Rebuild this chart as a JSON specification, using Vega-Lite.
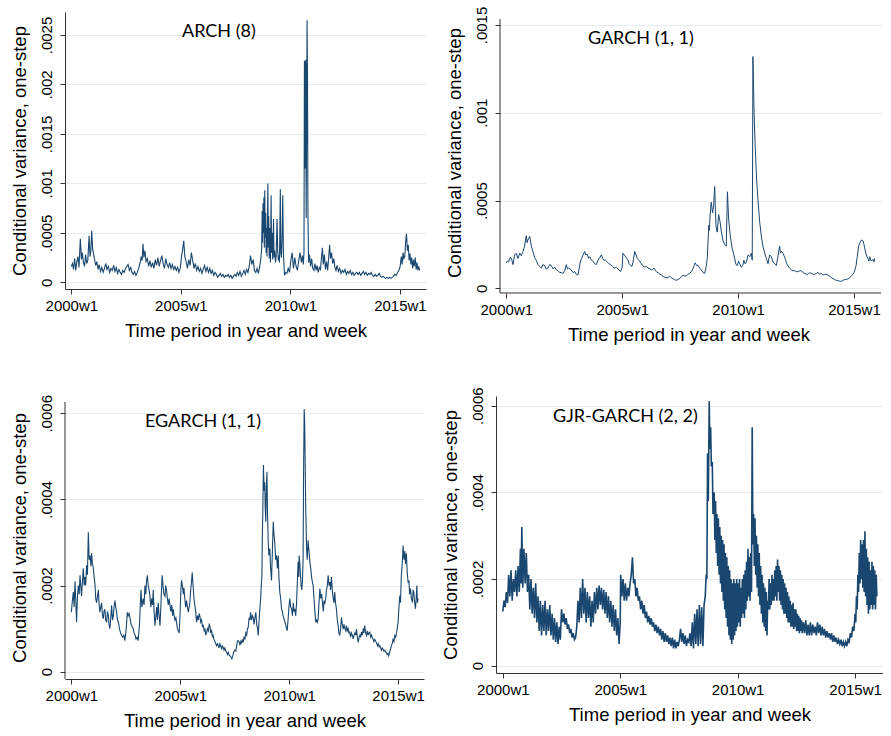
{
"$schema":"https://vega.github.io/schema/vega-lite/v6.json",
"background":"white",
"padding":{"left":9,"top":6,"right":0,"bottom":0},
"bounds":"flush",
"columns":2,
"spacing":{"row":103,"column":70},
"datasets":{
"arch":[
{"t":2000.00,"v":0.00016},{"t":2000.05,"v":0.00019},{"t":2000.10,"v":0.00013},{"t":2000.15,"v":0.00024},{"t":2000.20,"v":0.00012},{"t":2000.25,"v":0.00021},{"t":2000.30,"v":0.00026},{"t":2000.35,"v":0.00015},{"t":2000.41,"v":0.00044},{"t":2000.46,"v":0.00023},{"t":2000.50,"v":0.00030},{"t":2000.55,"v":0.00020},{"t":2000.60,"v":0.00016},{"t":2000.65,"v":0.00028},{"t":2000.70,"v":0.00019},{"t":2000.75,"v":0.00022},{"t":2000.81,"v":0.00047},{"t":2000.85,"v":0.00026},{"t":2000.89,"v":0.00032},{"t":2000.93,"v":0.00052},{"t":2000.97,"v":0.00034},
{"t":2001.01,"v":0.00029},{"t":2001.06,"v":0.00023},{"t":2001.11,"v":0.00017},{"t":2001.16,"v":0.00021},{"t":2001.22,"v":0.00013},{"t":2001.27,"v":0.00018},{"t":2001.33,"v":0.00011},{"t":2001.39,"v":0.00015},{"t":2001.45,"v":0.00010},{"t":2001.51,"v":0.00014},{"t":2001.57,"v":0.00019},{"t":2001.63,"v":0.00013},{"t":2001.69,"v":0.00016},{"t":2001.75,"v":0.00010},{"t":2001.81,"v":0.00014},{"t":2001.87,"v":0.00012},{"t":2001.93,"v":0.00017},{"t":2001.99,"v":0.00011},
{"t":2002.05,"v":0.00015},{"t":2002.11,"v":0.00009},{"t":2002.17,"v":0.00013},{"t":2002.23,"v":0.00010},{"t":2002.29,"v":0.00008},{"t":2002.35,"v":0.00012},{"t":2002.41,"v":0.00010},{"t":2002.47,"v":0.00014},{"t":2002.53,"v":0.00016},{"t":2002.59,"v":0.00018},{"t":2002.65,"v":0.00012},{"t":2002.71,"v":0.00015},{"t":2002.77,"v":0.00010},{"t":2002.83,"v":0.00008},{"t":2002.89,"v":0.00011},{"t":2002.95,"v":0.00007},
{"t":2003.01,"v":0.00010},{"t":2003.07,"v":0.00014},{"t":2003.13,"v":0.00019},{"t":2003.19,"v":0.00026},{"t":2003.23,"v":0.00022},{"t":2003.27,"v":0.00039},{"t":2003.31,"v":0.00025},{"t":2003.36,"v":0.00032},{"t":2003.41,"v":0.00021},{"t":2003.47,"v":0.00024},{"t":2003.53,"v":0.00016},{"t":2003.59,"v":0.00022},{"t":2003.65,"v":0.00015},{"t":2003.71,"v":0.00020},{"t":2003.77,"v":0.00014},{"t":2003.83,"v":0.00023},{"t":2003.89,"v":0.00017},{"t":2003.95,"v":0.00025},
{"t":2004.01,"v":0.00016},{"t":2004.07,"v":0.00022},{"t":2004.13,"v":0.00027},{"t":2004.19,"v":0.00019},{"t":2004.25,"v":0.00014},{"t":2004.31,"v":0.00024},{"t":2004.37,"v":0.00018},{"t":2004.43,"v":0.00015},{"t":2004.49,"v":0.00020},{"t":2004.55,"v":0.00014},{"t":2004.61,"v":0.00018},{"t":2004.67,"v":0.00013},{"t":2004.73,"v":0.00016},{"t":2004.79,"v":0.00012},{"t":2004.85,"v":0.00015},{"t":2004.91,"v":0.00010},{"t":2004.97,"v":0.00014},
{"t":2005.03,"v":0.00026},{"t":2005.08,"v":0.00033},{"t":2005.13,"v":0.00042},{"t":2005.18,"v":0.00026},{"t":2005.24,"v":0.00021},{"t":2005.30,"v":0.00014},{"t":2005.36,"v":0.00023},{"t":2005.42,"v":0.00017},{"t":2005.48,"v":0.00030},{"t":2005.54,"v":0.00022},{"t":2005.60,"v":0.00014},{"t":2005.66,"v":0.00019},{"t":2005.72,"v":0.00012},{"t":2005.78,"v":0.00016},{"t":2005.84,"v":0.00011},{"t":2005.90,"v":0.00014},{"t":2005.96,"v":0.00009},
{"t":2006.02,"v":0.00013},{"t":2006.08,"v":0.00017},{"t":2006.14,"v":0.00011},{"t":2006.20,"v":0.00015},{"t":2006.26,"v":0.00010},{"t":2006.32,"v":0.00014},{"t":2006.38,"v":0.00009},{"t":2006.44,"v":0.00012},{"t":2006.50,"v":0.00007},{"t":2006.56,"v":0.00010},{"t":2006.62,"v":0.00008},{"t":2006.68,"v":0.00005},{"t":2006.74,"v":0.00007},{"t":2006.80,"v":0.00009},{"t":2006.86,"v":0.00006},{"t":2006.92,"v":0.00008},{"t":2006.98,"v":0.00005},
{"t":2007.04,"v":0.00007},{"t":2007.10,"v":0.00006},{"t":2007.16,"v":0.00008},{"t":2007.22,"v":0.00005},{"t":2007.28,"v":0.00007},{"t":2007.34,"v":0.00004},{"t":2007.40,"v":0.00006},{"t":2007.46,"v":0.00008},{"t":2007.52,"v":0.00006},{"t":2007.58,"v":0.00010},{"t":2007.64,"v":0.00007},{"t":2007.70,"v":0.00011},{"t":2007.76,"v":0.00006},{"t":2007.82,"v":0.00009},{"t":2007.88,"v":0.00012},{"t":2007.94,"v":0.00008},
{"t":2008.00,"v":0.00013},{"t":2008.06,"v":0.00010},{"t":2008.12,"v":0.00016},{"t":2008.18,"v":0.00027},{"t":2008.24,"v":0.00018},{"t":2008.30,"v":0.00023},{"t":2008.36,"v":0.00012},{"t":2008.42,"v":0.00010},{"t":2008.48,"v":0.00014},{"t":2008.54,"v":0.00009},{"t":2008.60,"v":0.00016},{"t":2008.65,"v":0.00024},{"t":2008.69,"v":0.00035},{"t":2008.71,"v":0.00072},{"t":2008.73,"v":0.00040},{"t":2008.75,"v":0.00080},{"t":2008.77,"v":0.00050},{"t":2008.79,"v":0.00086},{"t":2008.81,"v":0.00035},{"t":2008.83,"v":0.00093},{"t":2008.85,"v":0.00045},{"t":2008.87,"v":0.00070},{"t":2008.89,"v":0.00030},{"t":2008.91,"v":0.00055},{"t":2008.93,"v":0.00026},{"t":2008.97,"v":0.00100},{"t":2008.99,"v":0.00035},
{"t":2009.01,"v":0.00067},{"t":2009.03,"v":0.00024},{"t":2009.06,"v":0.00055},{"t":2009.09,"v":0.00020},{"t":2009.12,"v":0.00088},{"t":2009.14,"v":0.00030},{"t":2009.17,"v":0.00050},{"t":2009.19,"v":0.00023},{"t":2009.23,"v":0.00064},{"t":2009.25,"v":0.00025},{"t":2009.28,"v":0.00032},{"t":2009.32,"v":0.00020},{"t":2009.35,"v":0.00027},{"t":2009.39,"v":0.00064},{"t":2009.42,"v":0.00032},{"t":2009.45,"v":0.00022},{"t":2009.47,"v":0.00027},{"t":2009.50,"v":0.00020},{"t":2009.54,"v":0.00094},{"t":2009.56,"v":0.00030},{"t":2009.59,"v":0.00025},{"t":2009.62,"v":0.00045},{"t":2009.65,"v":0.00088},{"t":2009.68,"v":0.00030},{"t":2009.73,"v":0.00007},{"t":2009.78,"v":0.00010},{"t":2009.84,"v":0.00009},{"t":2009.90,"v":0.00014},{"t":2009.96,"v":0.00010},
{"t":2010.02,"v":0.00022},{"t":2010.08,"v":0.00030},{"t":2010.14,"v":0.00014},{"t":2010.20,"v":0.00025},{"t":2010.26,"v":0.00016},{"t":2010.32,"v":0.00012},{"t":2010.38,"v":0.00022},{"t":2010.44,"v":0.00030},{"t":2010.50,"v":0.00020},{"t":2010.55,"v":0.00027},{"t":2010.59,"v":0.00018},{"t":2010.62,"v":0.00030},{"t":2010.64,"v":0.00224},{"t":2010.66,"v":0.00220},{"t":2010.68,"v":0.00115},{"t":2010.70,"v":0.00225},{"t":2010.72,"v":0.00065},{"t":2010.74,"v":0.00150},{"t":2010.76,"v":0.00265},{"t":2010.78,"v":0.00210},{"t":2010.80,"v":0.00070},{"t":2010.83,"v":0.00020},{"t":2010.87,"v":0.00028},{"t":2010.92,"v":0.00016},{"t":2010.97,"v":0.00024},
{"t":2011.02,"v":0.00014},{"t":2011.07,"v":0.00012},{"t":2011.12,"v":0.00019},{"t":2011.17,"v":0.00012},{"t":2011.22,"v":0.00017},{"t":2011.27,"v":0.00010},{"t":2011.32,"v":0.00015},{"t":2011.37,"v":0.00013},{"t":2011.42,"v":0.00025},{"t":2011.46,"v":0.00035},{"t":2011.50,"v":0.00018},{"t":2011.55,"v":0.00028},{"t":2011.60,"v":0.00013},{"t":2011.65,"v":0.00021},{"t":2011.70,"v":0.00012},{"t":2011.75,"v":0.00026},{"t":2011.79,"v":0.00038},{"t":2011.83,"v":0.00024},{"t":2011.88,"v":0.00030},{"t":2011.93,"v":0.00019},{"t":2011.98,"v":0.00024},
{"t":2012.03,"v":0.00015},{"t":2012.08,"v":0.00012},{"t":2012.13,"v":0.00017},{"t":2012.19,"v":0.00011},{"t":2012.25,"v":0.00014},{"t":2012.31,"v":0.00009},{"t":2012.37,"v":0.00012},{"t":2012.43,"v":0.00010},{"t":2012.49,"v":0.00013},{"t":2012.55,"v":0.00008},{"t":2012.61,"v":0.00011},{"t":2012.67,"v":0.00009},{"t":2012.73,"v":0.00012},{"t":2012.79,"v":0.00008},{"t":2012.85,"v":0.00010},{"t":2012.91,"v":0.00007},{"t":2012.97,"v":0.00009},
{"t":2013.03,"v":0.00010},{"t":2013.09,"v":0.00008},{"t":2013.15,"v":0.00010},{"t":2013.21,"v":0.00007},{"t":2013.27,"v":0.00009},{"t":2013.33,"v":0.00011},{"t":2013.39,"v":0.00008},{"t":2013.45,"v":0.00010},{"t":2013.51,"v":0.00007},{"t":2013.57,"v":0.00009},{"t":2013.63,"v":0.00008},{"t":2013.69,"v":0.00010},{"t":2013.75,"v":0.00007},{"t":2013.81,"v":0.00006},{"t":2013.87,"v":0.00008},{"t":2013.93,"v":0.00006},{"t":2013.99,"v":0.00007},
{"t":2014.05,"v":0.00009},{"t":2014.11,"v":0.00006},{"t":2014.17,"v":0.00005},{"t":2014.23,"v":0.00006},{"t":2014.29,"v":0.00005},{"t":2014.35,"v":0.00004},{"t":2014.41,"v":0.00005},{"t":2014.47,"v":0.00004},{"t":2014.53,"v":0.00005},{"t":2014.59,"v":0.00004},{"t":2014.65,"v":0.00005},{"t":2014.71,"v":0.00006},{"t":2014.77,"v":0.00008},{"t":2014.83,"v":0.00007},{"t":2014.89,"v":0.00010},{"t":2014.95,"v":0.00012},
{"t":2015.01,"v":0.00016},{"t":2015.06,"v":0.00026},{"t":2015.10,"v":0.00018},{"t":2015.14,"v":0.00030},{"t":2015.18,"v":0.00024},{"t":2015.22,"v":0.00026},{"t":2015.26,"v":0.00041},{"t":2015.30,"v":0.00049},{"t":2015.34,"v":0.00032},{"t":2015.38,"v":0.00038},{"t":2015.42,"v":0.00022},{"t":2015.46,"v":0.00029},{"t":2015.50,"v":0.00018},{"t":2015.54,"v":0.00025},{"t":2015.58,"v":0.00014},{"t":2015.62,"v":0.00023},{"t":2015.66,"v":0.00016},{"t":2015.70,"v":0.00025},{"t":2015.74,"v":0.00013},{"t":2015.78,"v":0.00020},{"t":2015.82,"v":0.00012},{"t":2015.86,"v":0.00016},{"t":2015.90,"v":0.00012}
],
"garch":[
{"t":2000.00,"v":0.000145},{"t":2000.05,"v":0.000155},{"t":2000.10,"v":0.00015},{"t":2000.16,"v":0.000175},{"t":2000.22,"v":0.00017},{"t":2000.29,"v":0.000135},{"t":2000.36,"v":0.00019},{"t":2000.43,"v":0.0002},{"t":2000.50,"v":0.00017},{"t":2000.58,"v":0.0002},{"t":2000.65,"v":0.000185},{"t":2000.72,"v":0.00021},{"t":2000.79,"v":0.00024},{"t":2000.86,"v":0.0003},{"t":2000.90,"v":0.00026},{"t":2000.93,"v":0.000275},{"t":2001.01,"v":0.000295},{"t":2001.08,"v":0.00024},{"t":2001.15,"v":0.00021},{"t":2001.22,"v":0.000175},{"t":2001.29,"v":0.00016},{"t":2001.37,"v":0.000135},{"t":2001.44,"v":0.000125},{"t":2001.51,"v":0.000115},{"t":2001.58,"v":0.000135},{"t":2001.65,"v":0.00013},{"t":2001.72,"v":0.00011},{"t":2001.80,"v":0.000115},{"t":2001.87,"v":0.000135},{"t":2001.94,"v":0.00013},{"t":2002.02,"v":0.00011},{"t":2002.09,"v":0.00012},{"t":2002.16,"v":0.000105},{"t":2002.23,"v":0.0001},{"t":2002.30,"v":0.00009},{"t":2002.37,"v":0.00009},{"t":2002.45,"v":0.000085},{"t":2002.52,"v":0.0001},{"t":2002.59,"v":0.000135},{"t":2002.64,"v":0.00011},{"t":2002.69,"v":0.000115},{"t":2002.80,"v":0.000105},{"t":2002.88,"v":0.00009},{"t":2002.95,"v":0.000095},{"t":2003.02,"v":0.00008},{"t":2003.09,"v":0.000075},{"t":2003.14,"v":0.00011},{"t":2003.19,"v":0.00015},{"t":2003.25,"v":0.00017},{"t":2003.31,"v":0.00019},{"t":2003.38,"v":0.00021},{"t":2003.43,"v":0.00019},{"t":2003.49,"v":0.000195},{"t":2003.55,"v":0.00017},{"t":2003.60,"v":0.00018},{"t":2003.67,"v":0.00016},{"t":2003.74,"v":0.000155},{"t":2003.81,"v":0.00014},{"t":2003.88,"v":0.000135},{"t":2003.96,"v":0.00016},{"t":2004.03,"v":0.000175},{"t":2004.10,"v":0.00019},{"t":2004.16,"v":0.00017},{"t":2004.21,"v":0.00016},{"t":2004.28,"v":0.00016},{"t":2004.36,"v":0.00015},{"t":2004.43,"v":0.00014},{"t":2004.50,"v":0.000135},{"t":2004.58,"v":0.000125},{"t":2004.67,"v":0.000115},{"t":2004.75,"v":0.00012},{"t":2004.82,"v":0.00011},{"t":2004.93,"v":0.000095},{"t":2005.00,"v":0.00012},{"t":2005.03,"v":0.0002},{"t":2005.08,"v":0.00019},{"t":2005.13,"v":0.000185},{"t":2005.19,"v":0.00017},{"t":2005.25,"v":0.00016},{"t":2005.30,"v":0.00014},{"t":2005.36,"v":0.00013},{"t":2005.42,"v":0.000125},{"t":2005.47,"v":0.00015},{"t":2005.54,"v":0.00021},{"t":2005.60,"v":0.00019},{"t":2005.65,"v":0.00017},{"t":2005.72,"v":0.00016},{"t":2005.80,"v":0.000145},{"t":2005.88,"v":0.00013},{"t":2005.97,"v":0.00012},{"t":2006.04,"v":0.000125},{"t":2006.11,"v":0.000115},{"t":2006.20,"v":0.00011},{"t":2006.28,"v":0.000105},{"t":2006.37,"v":0.000115},{"t":2006.47,"v":0.000095},{"t":2006.58,"v":0.000085},{"t":2006.69,"v":0.000075},{"t":2006.80,"v":0.000065},{"t":2006.90,"v":0.00006},{"t":2006.97,"v":0.00006},{"t":2007.05,"v":0.00007},{"t":2007.12,"v":0.00006},{"t":2007.19,"v":0.000055},{"t":2007.26,"v":0.00005},{"t":2007.33,"v":0.000045},{"t":2007.40,"v":0.00005},{"t":2007.48,"v":0.000055},{"t":2007.55,"v":0.000065},{"t":2007.62,"v":0.000075},{"t":2007.70,"v":0.00007},{"t":2007.77,"v":0.00007},{"t":2007.84,"v":0.00008},{"t":2007.91,"v":0.000085},{"t":2007.98,"v":0.000095},{"t":2008.05,"v":0.00011},{"t":2008.10,"v":0.00013},{"t":2008.15,"v":0.000145},{"t":2008.21,"v":0.00013},{"t":2008.27,"v":0.00013},{"t":2008.34,"v":0.000115},{"t":2008.41,"v":0.000105},{"t":2008.49,"v":0.00009},{"t":2008.56,"v":0.000085},{"t":2008.62,"v":0.00012},{"t":2008.67,"v":0.00017},{"t":2008.70,"v":0.00026},{"t":2008.74,"v":0.00036},{"t":2008.76,"v":0.00033},{"t":2008.79,"v":0.00041},{"t":2008.84,"v":0.00049},{"t":2008.87,"v":0.00046},{"t":2008.90,"v":0.00043},{"t":2008.95,"v":0.00048},{"t":2008.99,"v":0.00058},{"t":2009.02,"v":0.00045},{"t":2009.05,"v":0.00035},{"t":2009.10,"v":0.00032},{"t":2009.16,"v":0.00042},{"t":2009.22,"v":0.00038},{"t":2009.28,"v":0.00032},{"t":2009.35,"v":0.00027},{"t":2009.42,"v":0.00025},{"t":2009.49,"v":0.00024},{"t":2009.54,"v":0.00055},{"t":2009.59,"v":0.0004},{"t":2009.66,"v":0.0003},{"t":2009.74,"v":0.00023},{"t":2009.80,"v":0.0002},{"t":2009.85,"v":0.00017},{"t":2009.91,"v":0.000135},{"t":2009.97,"v":0.00013},{"t":2010.02,"v":0.000155},{"t":2010.07,"v":0.00014},{"t":2010.14,"v":0.00012},{"t":2010.20,"v":0.00013},{"t":2010.25,"v":0.00016},{"t":2010.30,"v":0.00014},{"t":2010.36,"v":0.00015},{"t":2010.43,"v":0.00019},{"t":2010.50,"v":0.00018},{"t":2010.57,"v":0.0002},{"t":2010.61,"v":0.00016},{"t":2010.64,"v":0.00132},{"t":2010.69,"v":0.001},{"t":2010.74,"v":0.0008},{"t":2010.80,"v":0.00062},{"t":2010.86,"v":0.0005},{"t":2010.93,"v":0.00038},{"t":2011.00,"v":0.0003},{"t":2011.07,"v":0.00024},{"t":2011.15,"v":0.0002},{"t":2011.22,"v":0.00017},{"t":2011.29,"v":0.00014},{"t":2011.36,"v":0.00019},{"t":2011.43,"v":0.00018},{"t":2011.51,"v":0.00015},{"t":2011.58,"v":0.00014},{"t":2011.65,"v":0.00013},{"t":2011.72,"v":0.00018},{"t":2011.79,"v":0.00024},{"t":2011.83,"v":0.0002},{"t":2011.87,"v":0.00021},{"t":2011.94,"v":0.0002},{"t":2012.04,"v":0.000165},{"t":2012.10,"v":0.00014},{"t":2012.15,"v":0.00013},{"t":2012.22,"v":0.000115},{"t":2012.30,"v":0.000105},{"t":2012.37,"v":0.0001},{"t":2012.44,"v":0.0001},{"t":2012.51,"v":0.000095},{"t":2012.58,"v":0.000095},{"t":2012.66,"v":0.0001},{"t":2012.73,"v":0.0001},{"t":2012.80,"v":0.00009},{"t":2012.87,"v":0.000085},{"t":2012.95,"v":0.00008},{"t":2013.02,"v":0.00008},{"t":2013.09,"v":0.00009},{"t":2013.16,"v":0.000085},{"t":2013.23,"v":0.00008},{"t":2013.30,"v":0.00008},{"t":2013.38,"v":0.000085},{"t":2013.45,"v":0.00009},{"t":2013.52,"v":0.00008},{"t":2013.59,"v":0.000085},{"t":2013.66,"v":0.000075},{"t":2013.73,"v":0.00008},{"t":2013.80,"v":0.00008},{"t":2013.88,"v":0.000075},{"t":2013.95,"v":0.00007},{"t":2014.02,"v":0.00006},{"t":2014.10,"v":0.000055},{"t":2014.17,"v":0.00005},{"t":2014.24,"v":0.000045},{"t":2014.31,"v":0.000045},{"t":2014.38,"v":0.00004},{"t":2014.46,"v":0.00004},{"t":2014.53,"v":0.000045},{"t":2014.60,"v":0.00005},{"t":2014.67,"v":0.00005},{"t":2014.74,"v":0.000055},{"t":2014.81,"v":0.00006},{"t":2014.89,"v":0.00007},{"t":2014.95,"v":0.00008},{"t":2015.00,"v":0.00009},{"t":2015.05,"v":0.00011},{"t":2015.09,"v":0.00013},{"t":2015.14,"v":0.00018},{"t":2015.20,"v":0.00024},{"t":2015.26,"v":0.00026},{"t":2015.32,"v":0.000275},{"t":2015.39,"v":0.00027},{"t":2015.43,"v":0.00025},{"t":2015.46,"v":0.00023},{"t":2015.53,"v":0.00019},{"t":2015.60,"v":0.00017},{"t":2015.64,"v":0.000155},{"t":2015.68,"v":0.00018},{"t":2015.72,"v":0.00016},{"t":2015.75,"v":0.000155},{"t":2015.82,"v":0.000165},{"t":2015.86,"v":0.00015},{"t":2015.89,"v":0.00017}
],
"egarch":[
{"t":2000.00,"v":0.000138},{"t":2000.04,"v":0.00016},{"t":2000.09,"v":0.000185},{"t":2000.13,"v":0.00015},{"t":2000.17,"v":0.00021},{"t":2000.21,"v":0.00016},{"t":2000.24,"v":0.000115},{"t":2000.28,"v":0.00017},{"t":2000.32,"v":0.0002},{"t":2000.36,"v":0.00018},{"t":2000.40,"v":0.000224},{"t":2000.44,"v":0.000195},{"t":2000.47,"v":0.000175},{"t":2000.51,"v":0.00021},{"t":2000.55,"v":0.00024},{"t":2000.59,"v":0.0002},{"t":2000.63,"v":0.00022},{"t":2000.66,"v":0.0002},{"t":2000.70,"v":0.000247},{"t":2000.74,"v":0.000225},{"t":2000.78,"v":0.000324},{"t":2000.82,"v":0.00026},{"t":2000.86,"v":0.00027},{"t":2000.90,"v":0.000245},{"t":2000.93,"v":0.000275},{"t":2000.97,"v":0.00025},{"t":2001.01,"v":0.00024},{"t":2001.05,"v":0.00022},{"t":2001.09,"v":0.0002},{"t":2001.12,"v":0.00017},{"t":2001.16,"v":0.00016},{"t":2001.20,"v":0.000175},{"t":2001.24,"v":0.00019},{"t":2001.27,"v":0.00016},{"t":2001.31,"v":0.000138},{"t":2001.35,"v":0.00015},{"t":2001.39,"v":0.00016},{"t":2001.43,"v":0.00013},{"t":2001.47,"v":0.000123},{"t":2001.50,"v":0.00014},{"t":2001.54,"v":0.000145},{"t":2001.58,"v":0.00012},{"t":2001.62,"v":0.000115},{"t":2001.66,"v":0.00014},{"t":2001.70,"v":0.00013},{"t":2001.73,"v":0.00011},{"t":2001.77,"v":0.0001},{"t":2001.81,"v":0.000125},{"t":2001.85,"v":0.000154},{"t":2001.89,"v":0.00012},{"t":2001.93,"v":0.00013},{"t":2001.96,"v":0.00015},{"t":2002.00,"v":0.000165},{"t":2002.04,"v":0.00015},{"t":2002.08,"v":0.000138},{"t":2002.12,"v":0.00012},{"t":2002.16,"v":0.000115},{"t":2002.21,"v":0.0001},{"t":2002.26,"v":0.00009},{"t":2002.31,"v":0.000084},{"t":2002.36,"v":0.00008},{"t":2002.41,"v":0.000085},{"t":2002.46,"v":0.000072},{"t":2002.52,"v":0.0001},{"t":2002.57,"v":0.000138},{"t":2002.61,"v":0.00013},{"t":2002.65,"v":0.000135},{"t":2002.69,"v":0.000126},{"t":2002.74,"v":0.00011},{"t":2002.79,"v":0.000105},{"t":2002.84,"v":0.0001},{"t":2002.88,"v":0.00009},{"t":2002.93,"v":0.000085},{"t":2002.97,"v":0.000076},{"t":2003.02,"v":0.00008},{"t":2003.07,"v":0.000072},{"t":2003.13,"v":0.00011},{"t":2003.17,"v":0.00016},{"t":2003.20,"v":0.00019},{"t":2003.24,"v":0.00015},{"t":2003.30,"v":0.00017},{"t":2003.34,"v":0.000155},{"t":2003.38,"v":0.0002},{"t":2003.42,"v":0.00018},{"t":2003.45,"v":0.00021},{"t":2003.49,"v":0.000224},{"t":2003.53,"v":0.0002},{"t":2003.57,"v":0.00019},{"t":2003.61,"v":0.000175},{"t":2003.65,"v":0.00015},{"t":2003.69,"v":0.00017},{"t":2003.73,"v":0.000155},{"t":2003.76,"v":0.00019},{"t":2003.80,"v":0.00014},{"t":2003.84,"v":0.000107},{"t":2003.88,"v":0.00013},{"t":2003.92,"v":0.00015},{"t":2003.95,"v":0.00012},{"t":2003.99,"v":0.00016},{"t":2004.03,"v":0.00013},{"t":2004.07,"v":0.000107},{"t":2004.11,"v":0.00015},{"t":2004.14,"v":0.00019},{"t":2004.17,"v":0.000224},{"t":2004.21,"v":0.0002},{"t":2004.25,"v":0.00018},{"t":2004.30,"v":0.000175},{"t":2004.33,"v":0.0002},{"t":2004.37,"v":0.00019},{"t":2004.41,"v":0.00017},{"t":2004.45,"v":0.000155},{"t":2004.49,"v":0.00017},{"t":2004.53,"v":0.000154},{"t":2004.57,"v":0.00014},{"t":2004.61,"v":0.000155},{"t":2004.65,"v":0.00013},{"t":2004.68,"v":0.000145},{"t":2004.72,"v":0.00013},{"t":2004.76,"v":0.00012},{"t":2004.80,"v":0.000125},{"t":2004.83,"v":0.000115},{"t":2004.87,"v":0.0001},{"t":2004.91,"v":0.000095},{"t":2004.95,"v":0.00009},{"t":2004.99,"v":0.00013},{"t":2005.03,"v":0.00019},{"t":2005.06,"v":0.000212},{"t":2005.10,"v":0.0002},{"t":2005.14,"v":0.00018},{"t":2005.17,"v":0.000195},{"t":2005.21,"v":0.00017},{"t":2005.25,"v":0.00015},{"t":2005.29,"v":0.000165},{"t":2005.33,"v":0.00015},{"t":2005.37,"v":0.000138},{"t":2005.41,"v":0.00015},{"t":2005.44,"v":0.00016},{"t":2005.48,"v":0.00019},{"t":2005.52,"v":0.00021},{"t":2005.55,"v":0.00023},{"t":2005.59,"v":0.0002},{"t":2005.63,"v":0.00017},{"t":2005.67,"v":0.000154},{"t":2005.71,"v":0.00014},{"t":2005.75,"v":0.000115},{"t":2005.79,"v":0.00013},{"t":2005.83,"v":0.00012},{"t":2005.87,"v":0.000135},{"t":2005.90,"v":0.00013},{"t":2005.94,"v":0.000115},{"t":2005.98,"v":0.00012},{"t":2006.02,"v":0.000105},{"t":2006.06,"v":0.000107},{"t":2006.10,"v":0.000095},{"t":2006.14,"v":0.0001},{"t":2006.17,"v":0.000085},{"t":2006.21,"v":0.00009},{"t":2006.25,"v":0.0001},{"t":2006.29,"v":0.000095},{"t":2006.33,"v":0.00011},{"t":2006.36,"v":0.000107},{"t":2006.40,"v":0.00009},{"t":2006.44,"v":0.000095},{"t":2006.48,"v":0.00008},{"t":2006.51,"v":0.000084},{"t":2006.55,"v":0.000075},{"t":2006.59,"v":0.00007},{"t":2006.63,"v":0.000065},{"t":2006.67,"v":0.00006},{"t":2006.71,"v":0.000065},{"t":2006.75,"v":0.00006},{"t":2006.78,"v":0.000055},{"t":2006.82,"v":0.000065},{"t":2006.86,"v":0.00006},{"t":2006.90,"v":0.000052},{"t":2006.93,"v":0.00006},{"t":2006.97,"v":0.000057},{"t":2007.01,"v":0.00005},{"t":2007.05,"v":0.000055},{"t":2007.09,"v":0.000048},{"t":2007.13,"v":0.000045},{"t":2007.17,"v":0.00004},{"t":2007.21,"v":0.000045},{"t":2007.25,"v":0.000038},{"t":2007.28,"v":0.000037},{"t":2007.33,"v":0.000034},{"t":2007.37,"v":0.00003},{"t":2007.41,"v":0.000036},{"t":2007.45,"v":0.000045},{"t":2007.51,"v":0.00005},{"t":2007.55,"v":0.000048},{"t":2007.59,"v":0.00006},{"t":2007.63,"v":0.000072},{"t":2007.66,"v":0.000072},{"t":2007.70,"v":0.00007},{"t":2007.74,"v":0.000062},{"t":2007.78,"v":0.00007},{"t":2007.81,"v":0.000065},{"t":2007.85,"v":0.000075},{"t":2007.89,"v":0.000068},{"t":2007.93,"v":0.00008},{"t":2007.97,"v":0.000076},{"t":2008.01,"v":0.00009},{"t":2008.05,"v":0.000085},{"t":2008.09,"v":0.0001},{"t":2008.12,"v":0.000103},{"t":2008.16,"v":0.000125},{"t":2008.20,"v":0.00012},{"t":2008.23,"v":0.000138},{"t":2008.27,"v":0.00012},{"t":2008.31,"v":0.00013},{"t":2008.35,"v":0.000126},{"t":2008.39,"v":0.00011},{"t":2008.43,"v":0.000125},{"t":2008.47,"v":0.000138},{"t":2008.51,"v":0.00011},{"t":2008.55,"v":0.0001},{"t":2008.58,"v":0.000084},{"t":2008.62,"v":0.00012},{"t":2008.66,"v":0.00015},{"t":2008.69,"v":0.000168},{"t":2008.72,"v":0.0002},{"t":2008.75,"v":0.000224},{"t":2008.77,"v":0.00032},{"t":2008.79,"v":0.00037},{"t":2008.81,"v":0.00045},{"t":2008.82,"v":0.00048},{"t":2008.85,"v":0.00042},{"t":2008.88,"v":0.00044},{"t":2008.90,"v":0.00038},{"t":2008.93,"v":0.000348},{"t":2008.95,"v":0.00042},{"t":2008.98,"v":0.000464},{"t":2009.01,"v":0.00036},{"t":2009.04,"v":0.0003},{"t":2009.07,"v":0.00027},{"t":2009.11,"v":0.000286},{"t":2009.15,"v":0.00024},{"t":2009.19,"v":0.000212},{"t":2009.23,"v":0.00028},{"t":2009.27,"v":0.000348},{"t":2009.30,"v":0.00032},{"t":2009.34,"v":0.0003},{"t":2009.38,"v":0.00026},{"t":2009.42,"v":0.00027},{"t":2009.46,"v":0.00024},{"t":2009.50,"v":0.00027},{"t":2009.53,"v":0.00022},{"t":2009.57,"v":0.000185},{"t":2009.61,"v":0.00017},{"t":2009.65,"v":0.000146},{"t":2009.69,"v":0.00014},{"t":2009.72,"v":0.00013},{"t":2009.78,"v":0.00012},{"t":2009.85,"v":0.000107},{"t":2009.91,"v":0.000095},{"t":2009.95,"v":0.00012},{"t":2009.99,"v":0.00015},{"t":2010.03,"v":0.00017},{"t":2010.07,"v":0.00015},{"t":2010.11,"v":0.000146},{"t":2010.15,"v":0.00013},{"t":2010.19,"v":0.00016},{"t":2010.22,"v":0.00014},{"t":2010.26,"v":0.000146},{"t":2010.30,"v":0.00013},{"t":2010.34,"v":0.00016},{"t":2010.37,"v":0.0002},{"t":2010.41,"v":0.000255},{"t":2010.44,"v":0.00022},{"t":2010.46,"v":0.00027},{"t":2010.49,"v":0.00025},{"t":2010.52,"v":0.000224},{"t":2010.55,"v":0.0002},{"t":2010.58,"v":0.00019},{"t":2010.61,"v":0.00021},{"t":2010.64,"v":0.00026},{"t":2010.66,"v":0.00045},{"t":2010.69,"v":0.00061},{"t":2010.71,"v":0.00058},{"t":2010.73,"v":0.00051},{"t":2010.76,"v":0.00038},{"t":2010.80,"v":0.000286},{"t":2010.83,"v":0.00026},{"t":2010.87,"v":0.000305},{"t":2010.91,"v":0.00028},{"t":2010.95,"v":0.000255},{"t":2010.99,"v":0.00024},{"t":2011.03,"v":0.00022},{"t":2011.06,"v":0.00021},{"t":2011.10,"v":0.0002},{"t":2011.14,"v":0.00017},{"t":2011.18,"v":0.00014},{"t":2011.22,"v":0.000115},{"t":2011.26,"v":0.00012},{"t":2011.30,"v":0.000115},{"t":2011.33,"v":0.000123},{"t":2011.37,"v":0.00016},{"t":2011.41,"v":0.000193},{"t":2011.45,"v":0.00017},{"t":2011.49,"v":0.00018},{"t":2011.53,"v":0.00016},{"t":2011.57,"v":0.00014},{"t":2011.60,"v":0.000165},{"t":2011.64,"v":0.00016},{"t":2011.68,"v":0.00017},{"t":2011.71,"v":0.000188},{"t":2011.75,"v":0.0002},{"t":2011.79,"v":0.000224},{"t":2011.83,"v":0.0002},{"t":2011.87,"v":0.000208},{"t":2011.90,"v":0.00019},{"t":2011.94,"v":0.00022},{"t":2011.98,"v":0.00019},{"t":2012.02,"v":0.00017},{"t":2012.06,"v":0.00016},{"t":2012.09,"v":0.000185},{"t":2012.13,"v":0.00016},{"t":2012.17,"v":0.000145},{"t":2012.21,"v":0.00012},{"t":2012.25,"v":0.000107},{"t":2012.28,"v":0.00009},{"t":2012.32,"v":0.000084},{"t":2012.36,"v":0.0001},{"t":2012.40,"v":0.000126},{"t":2012.44,"v":0.00011},{"t":2012.48,"v":0.000099},{"t":2012.52,"v":0.00011},{"t":2012.56,"v":0.0001},{"t":2012.60,"v":0.000095},{"t":2012.63,"v":0.000107},{"t":2012.67,"v":0.000095},{"t":2012.71,"v":0.0001},{"t":2012.74,"v":0.00009},{"t":2012.78,"v":0.000092},{"t":2012.82,"v":0.00008},{"t":2012.86,"v":0.00009},{"t":2012.90,"v":0.000085},{"t":2012.94,"v":0.000076},{"t":2012.98,"v":0.000085},{"t":2013.02,"v":0.00009},{"t":2013.06,"v":0.000085},{"t":2013.09,"v":0.000099},{"t":2013.13,"v":0.00008},{"t":2013.17,"v":0.000068},{"t":2013.21,"v":0.00008},{"t":2013.25,"v":0.000085},{"t":2013.28,"v":0.00008},{"t":2013.32,"v":0.000092},{"t":2013.36,"v":0.000085},{"t":2013.40,"v":0.0001},{"t":2013.43,"v":0.00009},{"t":2013.47,"v":0.000107},{"t":2013.51,"v":0.00009},{"t":2013.55,"v":0.000084},{"t":2013.59,"v":0.000095},{"t":2013.63,"v":0.000085},{"t":2013.66,"v":0.00009},{"t":2013.70,"v":0.000092},{"t":2013.74,"v":0.00008},{"t":2013.78,"v":0.000085},{"t":2013.81,"v":0.00008},{"t":2013.85,"v":0.000076},{"t":2013.89,"v":0.00007},{"t":2013.93,"v":0.000075},{"t":2013.97,"v":0.00007},{"t":2014.01,"v":0.000068},{"t":2014.05,"v":0.00006},{"t":2014.09,"v":0.000065},{"t":2014.13,"v":0.000058},{"t":2014.16,"v":0.00006},{"t":2014.20,"v":0.000055},{"t":2014.24,"v":0.00005},{"t":2014.28,"v":0.000055},{"t":2014.31,"v":0.000052},{"t":2014.35,"v":0.000048},{"t":2014.39,"v":0.00005},{"t":2014.43,"v":0.000045},{"t":2014.46,"v":0.000045},{"t":2014.50,"v":0.00004},{"t":2014.54,"v":0.000042},{"t":2014.57,"v":0.000037},{"t":2014.61,"v":0.000045},{"t":2014.65,"v":0.000052},{"t":2014.69,"v":0.00006},{"t":2014.73,"v":0.000065},{"t":2014.77,"v":0.000075},{"t":2014.81,"v":0.00007},{"t":2014.85,"v":0.000084},{"t":2014.89,"v":0.00008},{"t":2014.93,"v":0.00009},{"t":2014.96,"v":0.0001},{"t":2015.00,"v":0.000115},{"t":2015.04,"v":0.00015},{"t":2015.08,"v":0.000177},{"t":2015.11,"v":0.00016},{"t":2015.15,"v":0.000224},{"t":2015.19,"v":0.00025},{"t":2015.21,"v":0.00027},{"t":2015.23,"v":0.000293},{"t":2015.27,"v":0.00026},{"t":2015.31,"v":0.00028},{"t":2015.34,"v":0.00025},{"t":2015.38,"v":0.000275},{"t":2015.42,"v":0.00023},{"t":2015.46,"v":0.000208},{"t":2015.50,"v":0.00021},{"t":2015.53,"v":0.00018},{"t":2015.57,"v":0.000193},{"t":2015.61,"v":0.00017},{"t":2015.66,"v":0.000161},{"t":2015.69,"v":0.00019},{"t":2015.72,"v":0.000185},{"t":2015.76,"v":0.00016},{"t":2015.80,"v":0.000146},{"t":2015.83,"v":0.00017},{"t":2015.86,"v":0.0002},{"t":2015.89,"v":0.00016},{"t":2015.92,"v":0.00017}
],
"gjr":[
{"t":2000.00,"v":0.000125},{"t":2000.05,"v":0.00015},{"t":2000.10,"v":0.000135},{"t":2000.15,"v":0.00017},{"t":2000.20,"v":0.000145},{"t":2000.25,"v":0.00021},{"t":2000.30,"v":0.00016},{"t":2000.35,"v":0.00022},{"t":2000.40,"v":0.00015},{"t":2000.45,"v":0.0002},{"t":2000.50,"v":0.00017},{"t":2000.55,"v":0.00022},{"t":2000.60,"v":0.00016},{"t":2000.65,"v":0.00023},{"t":2000.70,"v":0.00017},{"t":2000.75,"v":0.00027},{"t":2000.78,"v":0.00019},{"t":2000.81,"v":0.00032},{"t":2000.85,"v":0.00018},{"t":2000.90,"v":0.00027},{"t":2000.95,"v":0.00019},{"t":2001.00,"v":0.00026},{"t":2001.05,"v":0.00017},{"t":2001.10,"v":0.00021},{"t":2001.15,"v":0.00013},{"t":2001.20,"v":0.0002},{"t":2001.25,"v":0.00012},{"t":2001.30,"v":0.00018},{"t":2001.35,"v":0.00011},{"t":2001.40,"v":0.00019},{"t":2001.45,"v":0.0001},{"t":2001.50,"v":0.00016},{"t":2001.55,"v":0.00008},{"t":2001.60,"v":0.00015},{"t":2001.65,"v":0.00007},{"t":2001.70,"v":0.00014},{"t":2001.75,"v":0.00008},{"t":2001.80,"v":0.00015},{"t":2001.85,"v":0.00007},{"t":2001.90,"v":0.00013},{"t":2001.95,"v":0.00008},{"t":2002.00,"v":0.00014},{"t":2002.05,"v":0.00007},{"t":2002.10,"v":0.00012},{"t":2002.15,"v":0.00006},{"t":2002.20,"v":0.00011},{"t":2002.25,"v":0.000055},{"t":2002.30,"v":0.0001},{"t":2002.35,"v":0.00005},{"t":2002.40,"v":0.00009},{"t":2002.45,"v":0.00006},{"t":2002.50,"v":0.00013},{"t":2002.55,"v":0.0001},{"t":2002.60,"v":0.00012},{"t":2002.65,"v":0.000095},{"t":2002.70,"v":0.00011},{"t":2002.75,"v":0.000085},{"t":2002.80,"v":0.000095},{"t":2002.85,"v":0.000075},{"t":2002.90,"v":0.000085},{"t":2002.95,"v":0.000065},{"t":2003.00,"v":0.000075},{"t":2003.05,"v":0.00006},{"t":2003.10,"v":0.000065},{"t":2003.15,"v":0.00009},{"t":2003.20,"v":0.00015},{"t":2003.25,"v":0.0001},{"t":2003.30,"v":0.00018},{"t":2003.35,"v":0.00011},{"t":2003.40,"v":0.0002},{"t":2003.45,"v":0.00012},{"t":2003.50,"v":0.00018},{"t":2003.55,"v":0.0001},{"t":2003.60,"v":0.00017},{"t":2003.65,"v":0.00011},{"t":2003.70,"v":0.00016},{"t":2003.75,"v":0.00009},{"t":2003.80,"v":0.00015},{"t":2003.85,"v":0.0001},{"t":2003.90,"v":0.00017},{"t":2003.95,"v":0.00012},{"t":2004.00,"v":0.00018},{"t":2004.05,"v":0.00013},{"t":2004.10,"v":0.000185},{"t":2004.15,"v":0.00014},{"t":2004.20,"v":0.00018},{"t":2004.25,"v":0.00013},{"t":2004.30,"v":0.000175},{"t":2004.35,"v":0.00012},{"t":2004.40,"v":0.00017},{"t":2004.45,"v":0.00011},{"t":2004.50,"v":0.00016},{"t":2004.55,"v":0.0001},{"t":2004.60,"v":0.00015},{"t":2004.65,"v":0.00009},{"t":2004.70,"v":0.00014},{"t":2004.75,"v":0.00008},{"t":2004.80,"v":0.00013},{"t":2004.85,"v":0.00007},{"t":2004.90,"v":0.00011},{"t":2004.95,"v":0.00005},{"t":2005.00,"v":0.0001},{"t":2005.02,"v":0.00021},{"t":2005.07,"v":0.00016},{"t":2005.12,"v":0.0002},{"t":2005.17,"v":0.00015},{"t":2005.22,"v":0.00019},{"t":2005.27,"v":0.00015},{"t":2005.32,"v":0.00018},{"t":2005.37,"v":0.00016},{"t":2005.42,"v":0.00019},{"t":2005.47,"v":0.00021},{"t":2005.52,"v":0.00025},{"t":2005.57,"v":0.00019},{"t":2005.62,"v":0.0002},{"t":2005.67,"v":0.00016},{"t":2005.72,"v":0.00018},{"t":2005.77,"v":0.00015},{"t":2005.82,"v":0.00016},{"t":2005.87,"v":0.00013},{"t":2005.92,"v":0.00015},{"t":2005.97,"v":0.00012},{"t":2006.02,"v":0.00014},{"t":2006.07,"v":0.00011},{"t":2006.12,"v":0.000125},{"t":2006.17,"v":0.0001},{"t":2006.22,"v":0.000115},{"t":2006.27,"v":0.000095},{"t":2006.32,"v":0.00011},{"t":2006.37,"v":0.00009},{"t":2006.42,"v":0.0001},{"t":2006.47,"v":0.00008},{"t":2006.52,"v":0.000095},{"t":2006.57,"v":0.000075},{"t":2006.62,"v":0.00009},{"t":2006.67,"v":0.00007},{"t":2006.72,"v":0.000085},{"t":2006.77,"v":0.00006},{"t":2006.82,"v":0.00008},{"t":2006.87,"v":0.000055},{"t":2006.92,"v":0.000075},{"t":2006.97,"v":0.000055},{"t":2007.02,"v":0.00007},{"t":2007.07,"v":0.00005},{"t":2007.12,"v":0.000065},{"t":2007.17,"v":0.000045},{"t":2007.22,"v":0.000065},{"t":2007.27,"v":0.00004},{"t":2007.32,"v":0.00006},{"t":2007.37,"v":0.00004},{"t":2007.42,"v":0.000055},{"t":2007.47,"v":0.000045},{"t":2007.52,"v":0.00006},{"t":2007.57,"v":0.000085},{"t":2007.62,"v":0.000055},{"t":2007.67,"v":0.000075},{"t":2007.72,"v":0.00005},{"t":2007.77,"v":0.00007},{"t":2007.82,"v":0.000045},{"t":2007.87,"v":0.00006},{"t":2007.92,"v":0.000055},{"t":2007.97,"v":0.000075},{"t":2008.02,"v":0.000045},{"t":2008.07,"v":0.0001},{"t":2008.12,"v":0.00004},{"t":2008.17,"v":0.00012},{"t":2008.22,"v":0.00005},{"t":2008.27,"v":0.00013},{"t":2008.32,"v":0.000045},{"t":2008.37,"v":0.00014},{"t":2008.42,"v":0.00005},{"t":2008.47,"v":0.000135},{"t":2008.52,"v":0.000045},{"t":2008.57,"v":0.00014},{"t":2008.62,"v":0.00016},{"t":2008.66,"v":0.00021},{"t":2008.69,"v":0.0002},{"t":2008.72,"v":0.00049},{"t":2008.75,"v":0.00038},{"t":2008.79,"v":0.00061},{"t":2008.82,"v":0.0005},{"t":2008.85,"v":0.00055},{"t":2008.88,"v":0.00046},{"t":2008.92,"v":0.00047},{"t":2008.95,"v":0.00035},{"t":2009.00,"v":0.0004},{"t":2009.03,"v":0.00029},{"t":2009.06,"v":0.00038},{"t":2009.09,"v":0.00026},{"t":2009.12,"v":0.00035},{"t":2009.15,"v":0.00023},{"t":2009.18,"v":0.00034},{"t":2009.21,"v":0.00021},{"t":2009.24,"v":0.00032},{"t":2009.27,"v":0.00019},{"t":2009.30,"v":0.0003},{"t":2009.33,"v":0.00017},{"t":2009.36,"v":0.00029},{"t":2009.39,"v":0.00015},{"t":2009.42,"v":0.00028},{"t":2009.45,"v":0.00013},{"t":2009.48,"v":0.00026},{"t":2009.51,"v":0.00011},{"t":2009.54,"v":0.00025},{"t":2009.57,"v":0.00009},{"t":2009.60,"v":0.00023},{"t":2009.63,"v":0.00007},{"t":2009.66,"v":0.00022},{"t":2009.69,"v":0.00006},{"t":2009.72,"v":0.0002},{"t":2009.75,"v":0.00005},{"t":2009.78,"v":0.00019},{"t":2009.81,"v":0.00006},{"t":2009.84,"v":0.0002},{"t":2009.87,"v":0.00007},{"t":2009.90,"v":0.00019},{"t":2009.93,"v":0.00008},{"t":2009.96,"v":0.0002},{"t":2009.99,"v":0.00009},{"t":2010.02,"v":0.00019},{"t":2010.05,"v":0.0001},{"t":2010.08,"v":0.0002},{"t":2010.11,"v":0.00009},{"t":2010.14,"v":0.00018},{"t":2010.17,"v":0.00011},{"t":2010.20,"v":0.0002},{"t":2010.23,"v":0.00012},{"t":2010.26,"v":0.00021},{"t":2010.29,"v":0.00011},{"t":2010.32,"v":0.00022},{"t":2010.35,"v":0.00013},{"t":2010.38,"v":0.00024},{"t":2010.41,"v":0.00015},{"t":2010.44,"v":0.00027},{"t":2010.47,"v":0.00016},{"t":2010.50,"v":0.00025},{"t":2010.53,"v":0.00015},{"t":2010.56,"v":0.00026},{"t":2010.59,"v":0.00017},{"t":2010.62,"v":0.00055},{"t":2010.65,"v":0.00028},{"t":2010.68,"v":0.00035},{"t":2010.71,"v":0.00023},{"t":2010.74,"v":0.00034},{"t":2010.77,"v":0.00021},{"t":2010.80,"v":0.0003},{"t":2010.83,"v":0.00018},{"t":2010.86,"v":0.00028},{"t":2010.89,"v":0.00016},{"t":2010.92,"v":0.00026},{"t":2010.95,"v":0.00014},{"t":2010.98,"v":0.00023},{"t":2011.01,"v":0.00012},{"t":2011.04,"v":0.00021},{"t":2011.07,"v":0.0001},{"t":2011.10,"v":0.00019},{"t":2011.13,"v":0.00009},{"t":2011.16,"v":0.00018},{"t":2011.19,"v":0.00008},{"t":2011.22,"v":0.00017},{"t":2011.25,"v":0.00007},{"t":2011.28,"v":0.00015},{"t":2011.31,"v":0.00013},{"t":2011.34,"v":0.0002},{"t":2011.37,"v":0.00013},{"t":2011.40,"v":0.00019},{"t":2011.43,"v":0.00014},{"t":2011.46,"v":0.00021},{"t":2011.49,"v":0.00015},{"t":2011.52,"v":0.0002},{"t":2011.55,"v":0.00015},{"t":2011.58,"v":0.00022},{"t":2011.61,"v":0.00016},{"t":2011.64,"v":0.00023},{"t":2011.67,"v":0.00015},{"t":2011.70,"v":0.000245},{"t":2011.73,"v":0.00017},{"t":2011.76,"v":0.00023},{"t":2011.79,"v":0.00015},{"t":2011.82,"v":0.00022},{"t":2011.85,"v":0.00014},{"t":2011.88,"v":0.00021},{"t":2011.91,"v":0.00013},{"t":2011.94,"v":0.0002},{"t":2011.97,"v":0.00012},{"t":2012.00,"v":0.00019},{"t":2012.03,"v":0.00012},{"t":2012.06,"v":0.00018},{"t":2012.09,"v":0.00011},{"t":2012.12,"v":0.00017},{"t":2012.15,"v":0.0001},{"t":2012.18,"v":0.00016},{"t":2012.21,"v":0.0001},{"t":2012.24,"v":0.00015},{"t":2012.27,"v":0.00009},{"t":2012.30,"v":0.00014},{"t":2012.33,"v":0.00009},{"t":2012.36,"v":0.000145},{"t":2012.39,"v":0.000085},{"t":2012.42,"v":0.00013},{"t":2012.45,"v":0.00009},{"t":2012.48,"v":0.00013},{"t":2012.51,"v":0.00008},{"t":2012.54,"v":0.00012},{"t":2012.57,"v":0.00008},{"t":2012.60,"v":0.000115},{"t":2012.63,"v":0.000075},{"t":2012.66,"v":0.00011},{"t":2012.69,"v":0.00008},{"t":2012.72,"v":0.000105},{"t":2012.75,"v":0.000075},{"t":2012.80,"v":0.0001},{"t":2012.85,"v":0.000075},{"t":2012.90,"v":0.000105},{"t":2012.95,"v":0.00007},{"t":2013.00,"v":0.000095},{"t":2013.05,"v":0.00007},{"t":2013.10,"v":0.0001},{"t":2013.15,"v":0.00007},{"t":2013.20,"v":0.000095},{"t":2013.25,"v":0.000075},{"t":2013.30,"v":0.00009},{"t":2013.35,"v":0.00007},{"t":2013.40,"v":0.0001},{"t":2013.45,"v":0.000075},{"t":2013.50,"v":0.000095},{"t":2013.55,"v":0.00007},{"t":2013.60,"v":0.00009},{"t":2013.65,"v":0.00007},{"t":2013.70,"v":0.000085},{"t":2013.75,"v":0.000065},{"t":2013.80,"v":0.00008},{"t":2013.85,"v":0.000065},{"t":2013.90,"v":0.000075},{"t":2013.95,"v":0.00006},{"t":2014.00,"v":0.000075},{"t":2014.05,"v":0.000055},{"t":2014.10,"v":0.00007},{"t":2014.15,"v":0.000055},{"t":2014.20,"v":0.000065},{"t":2014.25,"v":0.00005},{"t":2014.30,"v":0.00006},{"t":2014.35,"v":0.00005},{"t":2014.40,"v":0.00006},{"t":2014.45,"v":0.000045},{"t":2014.50,"v":0.000055},{"t":2014.55,"v":0.000045},{"t":2014.60,"v":0.000055},{"t":2014.65,"v":0.000045},{"t":2014.70,"v":0.00006},{"t":2014.75,"v":0.000055},{"t":2014.80,"v":0.000075},{"t":2014.85,"v":0.000065},{"t":2014.90,"v":0.00009},{"t":2014.95,"v":0.00008},{"t":2015.00,"v":0.00012},{"t":2015.03,"v":0.0001},{"t":2015.06,"v":0.00016},{"t":2015.09,"v":0.00013},{"t":2015.12,"v":0.00021},{"t":2015.15,"v":0.00017},{"t":2015.18,"v":0.00026},{"t":2015.21,"v":0.00019},{"t":2015.24,"v":0.00029},{"t":2015.27,"v":0.0002},{"t":2015.30,"v":0.00028},{"t":2015.33,"v":0.00018},{"t":2015.36,"v":0.00029},{"t":2015.39,"v":0.00017},{"t":2015.42,"v":0.00031},{"t":2015.45,"v":0.00016},{"t":2015.48,"v":0.00027},{"t":2015.51,"v":0.00014},{"t":2015.54,"v":0.00025},{"t":2015.57,"v":0.00012},{"t":2015.60,"v":0.00024},{"t":2015.63,"v":0.00013},{"t":2015.66,"v":0.00022},{"t":2015.69,"v":0.00014},{"t":2015.72,"v":0.00024},{"t":2015.75,"v":0.00013},{"t":2015.78,"v":0.00023},{"t":2015.81,"v":0.00014},{"t":2015.84,"v":0.00022},{"t":2015.87,"v":0.00013},{"t":2015.90,"v":0.00021},{"t":2015.93,"v":0.00016}
]
},
"concat":[
{"width":361,"height":277,"layer":[
{"data":{"name":"arch"},"mark":{"type":"line","color":"#1a476f","strokeWidth":1.1},
"encoding":{
"x":{"field":"t","type":"quantitative","scale":{"domain":[1999.71,2016.19],"nice":false,"zero":false},"axis":{"values":[2000,2005,2010,2015],"labelExpr":"datum.value + 'w1'","title":"Time period in year and week","grid":false,"labelPadding":4,"titlePadding":8,"labelDx":5}},
"y":{"field":"v","type":"quantitative","scale":{"domain":[-0.0000677,0.0027325],"nice":false,"zero":false},"axis":{"values":[0,0.0005,0.001,0.0015,0.002,0.0025],"labelExpr":"datum.value == 0 ? '0' : replace(format(datum.value, '~g'), '0.', '.')","title":"Conditional variance, one-step","grid":true,"labelAngle":-90,"labelPadding":6,"titlePadding":10}}}},
{"data":{"values":[{}]},"mark":{"type":"text","font":"Lato","fontSize":18,"align":"left","baseline":"middle","color":"#000"},
"encoding":{"x":{"datum":2005.05},"y":{"datum":0.00253},"text":{"value":"ARCH (8)"}}}
]},
{"width":385,"height":281,"layer":[
{"data":{"name":"garch"},"mark":{"type":"line","color":"#1a476f","strokeWidth":1},
"encoding":{
"x":{"field":"t","type":"quantitative","scale":{"domain":[1999.556,2016.165],"nice":false,"zero":false},"axis":{"values":[2000,2005,2010,2015],"labelExpr":"datum.value + 'w1'","title":"Time period in year and week","grid":false,"domain":false,"labelPadding":4,"titlePadding":8,"labelDx":5}},
"y":{"field":"v","type":"quantitative","scale":{"domain":[-0.0000268,0.001574],"nice":false,"zero":false},"axis":{"values":[0,0.0005,0.001,0.0015],"labelExpr":"datum.value == 0 ? '0' : replace(format(datum.value, '~g'), '0.', '.')","title":"Conditional variance, one-step","grid":true,"domain":false,"offset":-4,"labelAngle":-90,"labelPadding":6,"titlePadding":10}}}},
{"data":{"values":[{}]},"mark":{"type":"rule","color":"#333","strokeWidth":1},
"encoding":{"x":{"datum":1999.7286},"y":{"datum":-0.0000268},"y2":{"datum":0.001534}}},
{"data":{"values":[{}]},"mark":{"type":"rule","color":"#333","strokeWidth":1},
"encoding":{"x":{"datum":1999.7286},"x2":{"datum":2016.165},"y":{"datum":-0.0000268}}},
{"data":{"values":[{}]},"mark":{"type":"text","font":"Lato","fontSize":18,"align":"left","baseline":"middle","color":"#000"},
"encoding":{"x":{"datum":2003.52},"y":{"datum":0.00142},"text":{"value":"GARCH (1, 1)"}}}
]},
{"width":359,"height":283,"layer":[
{"data":{"name":"egarch"},"mark":{"type":"line","color":"#1a476f","strokeWidth":1.1},
"encoding":{
"x":{"field":"t","type":"quantitative","scale":{"domain":[1999.71,2016.19],"nice":false,"zero":false},"axis":{"values":[2000,2005,2010,2015],"labelExpr":"datum.value + 'w1'","title":"Time period in year and week","grid":false,"labelPadding":4,"titlePadding":8,"labelDx":5}},
"y":{"field":"v","type":"quantitative","scale":{"domain":[-0.00001695,0.00064017],"nice":false,"zero":false},"axis":{"values":[0,0.0002,0.0004,0.0006],"labelExpr":"datum.value == 0 ? '0' : replace(format(datum.value, '~g'), '0.', '.')","title":"Conditional variance, one-step","grid":true,"domain":false,"labelAngle":-90,"labelPadding":6,"titlePadding":10}}}},
{"data":{"values":[{}]},"mark":{"type":"rule","color":"#333","strokeWidth":1},
"encoding":{"x":{"datum":1999.71},"y":{"datum":-0.00001695},"y2":{"datum":0.00062624}}},
{"data":{"values":[{}]},"mark":{"type":"text","font":"Lato","fontSize":18,"align":"left","baseline":"middle","color":"#000"},
"encoding":{"x":{"datum":2003.38},"y":{"datum":0.00058},"text":{"value":"EGARCH (1, 1)"}}}
]},
{"width":387,"height":277,"layer":[
{"data":{"name":"gjr"},"mark":{"type":"line","color":"#1a476f","strokeWidth":1.6},
"encoding":{
"x":{"field":"t","type":"quantitative","scale":{"domain":[1999.71,2016.19],"nice":false,"zero":false},"axis":{"values":[2000,2005,2010,2015],"labelExpr":"datum.value + 'w1'","title":"Time period in year and week","grid":false,"labelPadding":4,"titlePadding":8,"labelDx":5}},
"y":{"field":"v","type":"quantitative","scale":{"domain":[-0.00001685,0.00062238],"nice":false,"zero":false},"axis":{"values":[0,0.0002,0.0004,0.0006],"labelExpr":"datum.value == 0 ? '0' : replace(format(datum.value, '~g'), '0.', '.')","title":"Conditional variance, one-step","grid":true,"labelAngle":-90,"labelPadding":6,"titlePadding":10}}}},
{"data":{"values":[{}]},"mark":{"type":"text","font":"Lato","fontSize":18,"align":"left","baseline":"middle","color":"#000"},
"encoding":{"x":{"datum":2002.14},"y":{"datum":0.000575},"text":{"value":"GJR-GARCH (2, 2)"}}}
]}
],
"config":{
"view":{"stroke":null},
"axis":{"labelFont":"Liberation Sans","titleFont":"Liberation Sans","labelColor":"#000","titleColor":"#000","titleFontWeight":"normal","domainColor":"#333","tickColor":"#333","tickSize":5,"labelFontSize":15,"titleFontSize":18.5,"gridColor":"#e4edef","labelFlush":false,"labelOverlap":false,"labelBound":false}
}
}
